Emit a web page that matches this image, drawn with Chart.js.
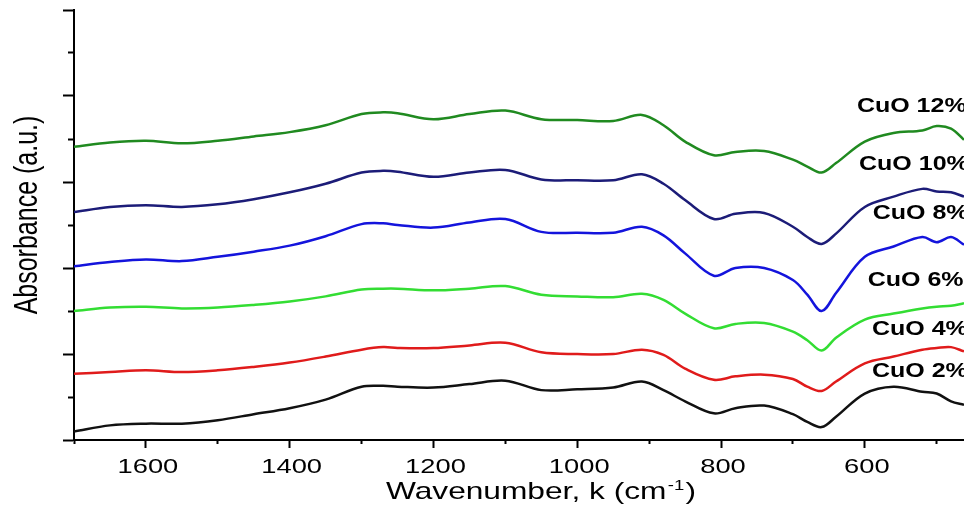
<!DOCTYPE html>
<html>
<head>
<meta charset="utf-8">
<title>FTIR absorbance CuO</title>
<script src="https://cdn.jsdelivr.net/npm/chart.js@4.4.1/dist/chart.umd.min.js"></script>
<style>
  html, body { margin: 0; padding: 0; background: #fff; }
  #chart { display: block; }
</style>
</head>
<body>
<canvas id="chart" width="964" height="506"></canvas>
<script>
// wavenumber grid (cm-1) and absorbance (a.u., stacked/offset)
var wavenumbers = [1700, 1650, 1600, 1550, 1500, 1450, 1400, 1350, 1300, 1270, 1250, 1200, 1150, 1100, 1050, 1000, 950, 910, 880, 850, 810, 780, 740, 700, 680, 660, 640, 600, 560, 520, 500, 480, 462];

var cuo2  = [0.10, 0.17, 0.19, 0.19, 0.23, 0.30, 0.37, 0.47, 0.62, 0.63, 0.62, 0.61, 0.65, 0.69, 0.58, 0.59, 0.61, 0.68, 0.58, 0.45, 0.31, 0.37, 0.40, 0.30, 0.21, 0.15, 0.27, 0.54, 0.62, 0.56, 0.54, 0.45, 0.41];
var cuo4  = [0.77, 0.79, 0.81, 0.79, 0.81, 0.85, 0.90, 0.97, 1.05, 1.08, 1.07, 1.07, 1.10, 1.13, 1.02, 1.00, 1.00, 1.05, 0.99, 0.83, 0.70, 0.74, 0.76, 0.71, 0.62, 0.57, 0.68, 0.89, 0.97, 1.05, 1.07, 1.08, 1.03];
var cuo6  = [1.50, 1.54, 1.55, 1.53, 1.54, 1.57, 1.61, 1.67, 1.75, 1.76, 1.76, 1.74, 1.76, 1.79, 1.69, 1.67, 1.66, 1.70, 1.63, 1.47, 1.30, 1.35, 1.36, 1.26, 1.16, 1.04, 1.19, 1.40, 1.47, 1.53, 1.55, 1.56, 1.59];
var cuo8  = [2.02, 2.07, 2.10, 2.08, 2.13, 2.19, 2.26, 2.37, 2.51, 2.52, 2.50, 2.47, 2.53, 2.57, 2.42, 2.41, 2.41, 2.48, 2.38, 2.17, 1.91, 2.00, 2.00, 1.86, 1.69, 1.50, 1.71, 2.13, 2.25, 2.36, 2.30, 2.36, 2.27];
var cuo10 = [2.65, 2.71, 2.73, 2.71, 2.74, 2.80, 2.88, 2.98, 3.11, 3.13, 3.12, 3.06, 3.11, 3.14, 3.03, 3.02, 3.02, 3.09, 2.98, 2.79, 2.57, 2.63, 2.64, 2.48, 2.36, 2.28, 2.40, 2.71, 2.83, 2.92, 2.89, 2.88, 2.83];
var cuo12 = [3.41, 3.46, 3.48, 3.45, 3.48, 3.53, 3.58, 3.66, 3.79, 3.81, 3.80, 3.73, 3.79, 3.83, 3.73, 3.72, 3.71, 3.78, 3.66, 3.47, 3.31, 3.35, 3.36, 3.26, 3.18, 3.11, 3.22, 3.47, 3.57, 3.60, 3.65, 3.62, 3.49];

var seriesNames = ['CuO 2%', 'CuO 4%', 'CuO 6%', 'CuO 8%', 'CuO 10%', 'CuO 12%'];
var seriesValues = [cuo2, cuo4, cuo6, cuo8, cuo10, cuo12];
var seriesColors = ['#111111', '#e01b1b', '#33dd33', '#1414dc', '#1c1c78', '#208a20'];
// where each curve name sits (wavenumber of its left edge, absorbance of its middle)
var labelWavenumber = [590, 590, 596, 589, 608, 611];
var labelLevel = [0.80, 1.28, 1.86, 2.63, 3.20, 3.88];

// axis ticks
var xMajorTicks = [1600, 1400, 1200, 1000, 800, 600];
var xMinorTicks = [1700, 1500, 1300, 1100, 900, 700, 500];
var yMajorTicks = [0, 1, 2, 3, 4, 5];
var yMinorTicks = [0.5, 1.5, 2.5, 3.5, 4.5];

var FONT = '"Liberation Sans", Arial, Helvetica, sans-serif';

function points(values) {
  var pts = [];
  for (var i = 0; i < wavenumbers.length; i++) {
    pts.push({ x: wavenumbers[i], y: values[i] });
  }
  return pts;
}

function fixedTicks(list) {
  return function(scale) {
    scale.ticks = list.map(function(v) { return { value: v }; });
  };
}

var datasets = [];
for (var i = 0; i < seriesNames.length; i++) {
  datasets.push({
    label: seriesNames[i],
    data: points(seriesValues[i]),
    borderColor: seriesColors[i],
    borderWidth: 2.5,
    pointRadius: 0,
    tension: 0.35,
    fill: false,
    xAxisID: 'x',
    yAxisID: 'y'
  });
}

// text in the source figure is stretched sideways, so draw it scaled
function wideText(ctx, text, x, y, sx, align) {
  ctx.save();
  ctx.translate(x, y);
  ctx.scale(sx, 1);
  ctx.textAlign = align;
  ctx.fillText(text, 0, 0);
  ctx.restore();
}

var textPlugin = {
  id: 'texts',
  afterDraw: function(chart) {
    var ctx = chart.ctx;
    var xs = chart.scales.x;
    var ys = chart.scales.y;
    ctx.save();
    ctx.fillStyle = '#000';
    ctx.textBaseline = 'alphabetic';

    // tick labels of the wavenumber axis
    ctx.font = '21px ' + FONT;
    xs.ticks.forEach(function(t) {
      wideText(ctx, String(t.value), xs.getPixelForValue(t.value) + 2, 473, 1.3, 'center');
    });

    // x title with superscript
    var sx = 1.32;
    var main = 'Wavenumber, k (cm', sup = '-1', close = ')';
    ctx.font = '24px ' + FONT;
    var w1 = ctx.measureText(main).width;
    var w3 = ctx.measureText(close).width;
    ctx.font = '14px ' + FONT;
    var w2 = ctx.measureText(sup).width;
    var total = (w1 + w2 + w3 + 2) * sx;
    ctx.save();
    ctx.translate(541 - total / 2, 499);
    ctx.scale(sx, 1);
    ctx.textAlign = 'left';
    ctx.font = '24px ' + FONT;
    ctx.fillText(main, 0, 0);
    ctx.font = '14px ' + FONT;
    ctx.fillText(sup, w1 + 1, -9);
    ctx.font = '24px ' + FONT;
    ctx.fillText(close, w1 + w2 + 2, 0);
    ctx.restore();

    // y title
    ctx.save();
    ctx.translate(28, 215);
    ctx.rotate(-Math.PI / 2);
    ctx.scale(1, 1.3);
    ctx.font = '25px ' + FONT;
    ctx.textAlign = 'center';
    ctx.textBaseline = 'middle';
    ctx.fillText('Absorbance (a.u.)', 0, 0);
    ctx.restore();

    // curve names
    ctx.font = 'bold 20px ' + FONT;
    ctx.textBaseline = 'middle';
    for (var i = 0; i < seriesNames.length; i++) {
      wideText(ctx, seriesNames[i], xs.getPixelForValue(labelWavenumber[i]),
        ys.getPixelForValue(labelLevel[i]), 1.25, 'left');
    }
    ctx.restore();
  }
};

var ctx = document.getElementById('chart');

var chart = new Chart(ctx, {
  type: 'line',
  data: { datasets: datasets },
  options: {
    responsive: false,
    animation: false,
    devicePixelRatio: 1,
    layout: { padding: { top: 10, left: 0, right: 0, bottom: 0 } },
    plugins: {
      legend: { display: false },
      tooltip: { enabled: false }
    },
    scales: {
      x: {
        type: 'linear',
        position: 'bottom',
        reverse: true,
        min: 462,
        max: 1700,
        weight: 1,
        afterBuildTicks: fixedTicks(xMajorTicks),
        ticks: { display: false },
        grid: { drawOnChartArea: false, tickLength: 8, tickWidth: 2, tickColor: '#000' },
        border: { color: '#000', width: 2 },
        afterFit: function(s) { s.height = 66; }
      },
      xMinor: {
        type: 'linear',
        position: 'bottom',
        reverse: true,
        min: 462,
        max: 1700,
        weight: 0,
        afterBuildTicks: fixedTicks(xMinorTicks),
        ticks: { display: false },
        grid: { drawOnChartArea: false, tickLength: 4, tickWidth: 2, tickColor: '#000' },
        border: { display: false },
        afterFit: function(s) { s.height = 0; }
      },
      y: {
        type: 'linear',
        position: 'left',
        min: 0,
        max: 5,
        weight: 1,
        afterBuildTicks: fixedTicks(yMajorTicks),
        ticks: { display: false },
        grid: { drawOnChartArea: false, tickLength: 11, tickWidth: 2, tickColor: '#000' },
        border: { color: '#000', width: 2 },
        afterFit: function(s) { s.width = 74; }
      },
      yMinor: {
        type: 'linear',
        position: 'left',
        min: 0,
        max: 5,
        weight: 0,
        afterBuildTicks: fixedTicks(yMinorTicks),
        ticks: { display: false },
        grid: { drawOnChartArea: false, tickLength: 6, tickWidth: 2, tickColor: '#000' },
        border: { display: false },
        afterFit: function(s) { s.width = 0; }
      }
    }
  },
  plugins: [textPlugin]
});
</script>
</body>
</html>
